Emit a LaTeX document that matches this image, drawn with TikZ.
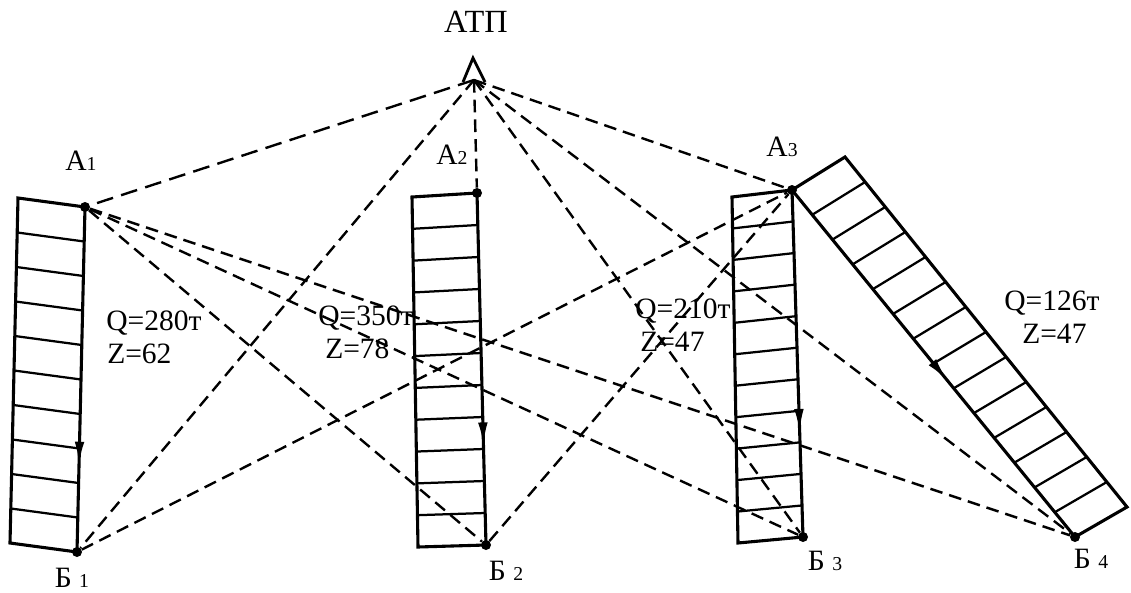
\documentclass[tikz,border=0pt]{standalone}
\usepackage{fontspec}
\setmainfont{Liberation Serif}
\usetikzlibrary{calc,arrows.meta,decorations.markings}
\newcommand\digsize{\fontsize{14}{14}\selectfont}

\begin{document}
\begin{tikzpicture}[x=0.025cm, y=-0.025cm,
  dot/.style={circle, fill, inner sep=0pt, minimum size=2.5mm},
  trip/.style={dash pattern=on 9pt off 5pt, line width=1.7pt},
  edge/.style={line width=2.2pt},
  rung/.style={line width=1.6pt},
  lbl/.style={inner sep=0pt, font=\fontsize{21}{25}\selectfont},
  run/.style={edge, postaction={decorate}, decoration={markings,
    mark=at position #1 with {\arrow{Latex[length=6mm,width=2.4mm]}}}}]
\useasboundingbox (0,0) rectangle (1131,592);
% points of loading and unloading
\node (A1)[dot] at (85,207) {};
\node (B1)[dot] at (77,552) {};
\node (A2)[dot] at (477,193) {};
\node (B2)[dot] at (486,545) {};
\node (A3)[dot] at (792,190) {};
\node (B3)[dot] at (803,537) {};
\node (B4)[dot] at (1075,537) {};
\coordinate (ATP) at (474,80);
\coordinate (p1) at (18,198);  \coordinate (q1) at (10,543);
\coordinate (p2) at (412,197); \coordinate (q2) at (418,547);
\coordinate (p3) at (732,197); \coordinate (q3) at (738,543);
\coordinate (p4) at (845,157); \coordinate (q4) at (1127,507);
% ATP mark
\draw[line width=2pt] (463,82) -- (473,58) -- (485,82);
% cargo bars
\draw[edge] (A1.center) -- (p1) -- (q1) -- (B1.center);
\foreach \t in {1,...,9} \draw[rung] ($(p1)!\t/10!(q1)$) -- ($(A1)!\t/10!(B1)$);
\draw[run=0.75] (A1.center) -- (B1.center);
\draw[edge] (A2.center) -- (p2) -- (q2) -- (B2.center);
\foreach \t in {1,...,10} \draw[rung] ($(p2)!\t/11!(q2)$) -- ($(A2)!\t/11!(B2)$);
\draw[run=0.72] (A2.center) -- (B2.center);
\draw[edge] (A3.center) -- (p3) -- (q3) -- (B3.center);
\foreach \t in {1,...,10} \draw[rung] ($(p3)!\t/11!(q3)$) -- ($(A3)!\t/11!(B3)$);
\draw[run=0.7] (A3.center) -- (B3.center);
\draw[edge] (A3.center) -- (p4) -- (q4) -- (B4.center);
\foreach \t in {1,...,13} \draw[rung] ($(p4)!\t/14!(q4)$) -- ($(A3)!\t/14!(B4)$);
\draw[run=0.55] (A3.center) -- (B4.center);
% empty runs
\draw[trip, dash pattern=on 12pt off 6pt] (ATP) -- (A1);
\draw[trip] (ATP) -- (A2);
\draw[trip] (ATP) -- (A3);
\draw[trip] (ATP) -- (B1);
\draw[trip] (ATP) -- (B3);
\draw[trip] (ATP) -- (B4);
\draw[trip] (A1) -- (B2);
\draw[trip] (A1) -- (B3);
\draw[trip] (A1) -- (B4);
\draw[trip] (B1) -- (A3);
\draw[trip] (B2) -- (A3);
% labels
\node (tATP)[lbl, font=\fontsize{23}{25}\selectfont] at (476,22) {АТП};
\node (tA1)[lbl] at (81,161) {А{\digsize 1}};
\node (tA2)[lbl] at (452,155) {А{\digsize 2}};
\node (tA3)[lbl] at (782,147) {А{\digsize 3}};
\node (tB1)[lbl] at (72,578) {Б {\digsize 1}};
\node (tB2)[lbl] at (506,571) {Б {\digsize 2}};
\node (tB3)[lbl] at (825,561) {Б {\digsize 3}};
\node (tB4)[lbl] at (1091,559) {Б {\digsize 4}};
\node (Q1)[lbl, anchor=north west] at (106,311) {Q=280т};
\node (Z1)[lbl, anchor=north west] at (107,344) {Z=62};
\node (Q2)[lbl, anchor=north west] at (318,306) {Q=350т};
\node (Z2)[lbl, anchor=north west] at (325,339) {Z=78};
\node (Q3)[lbl, anchor=north west] at (635,299) {Q=210т};
\node (Z3)[lbl, anchor=north west] at (640,332) {Z=47};
\node (Q4)[lbl, anchor=north west] at (1004,291) {Q=126т};
\node (Z4)[lbl, anchor=north west] at (1022,324) {Z=47};
\end{tikzpicture}
\end{document}
